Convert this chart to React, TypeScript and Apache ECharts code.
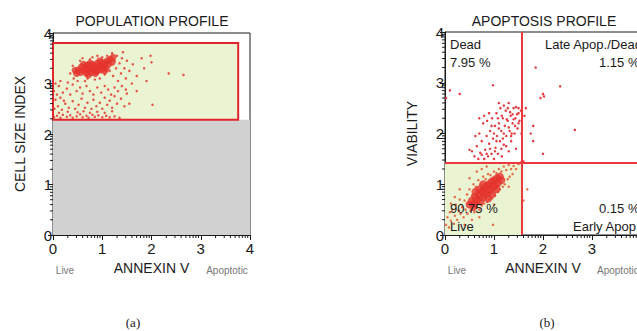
import React, { useEffect, useRef } from "react";
import * as echarts from "echarts";

const leftXTicks = [0, 1, 2, 3, 4];
const rightXTicks = [0, 1, 2, 3];
const decadeMinor = [0.301, 0.477, 0.602, 0.699, 0.778, 0.845, 0.903, 0.954];

// Population profile (left)
const popGate = { x0: 0, x1: 3.76, y0: 2.28, y1: 3.8 };
const popCore: number[][] = [
  [0.48, 3.2], [0.52, 3.27], [0.56, 3.22], [0.58, 3.33], [0.62, 3.25], [0.65, 3.3], [0.68, 3.2],
  [0.7, 3.36], [0.73, 3.26], [0.76, 3.31], [0.78, 3.22], [0.8, 3.38], [0.83, 3.28], [0.85, 3.34],
  [0.88, 3.24], [0.9, 3.4], [0.92, 3.3], [0.95, 3.36], [0.98, 3.27], [1.0, 3.42], [1.03, 3.33],
  [1.06, 3.39], [1.08, 3.3], [1.1, 3.45], [1.13, 3.38], [1.16, 3.48], [1.2, 3.42], [0.72, 3.17],
  [0.86, 3.2], [0.62, 3.38], [0.95, 3.45], [1.05, 3.25], [0.45, 3.26], [1.22, 3.52],
  [0.75, 3.4], [0.9, 3.25], [0.68, 3.3], [1.0, 3.32],
];
const popSparse: number[][] = [
  [0.35, 3.2], [0.4, 3.35], [0.42, 3.1], [0.5, 3.05], [0.55, 3.45], [0.6, 3.5], [0.65, 3.05],
  [0.7, 3.1], [0.75, 3.48], [0.8, 3.52], [0.85, 3.08], [0.9, 3.55], [0.95, 3.1], [1.0, 3.52],
  [1.05, 3.18], [1.1, 3.55], [1.15, 3.25], [1.2, 3.6], [1.22, 3.15], [1.25, 3.45], [1.28, 3.3],
  [1.3, 3.55], [1.32, 3.05], [1.35, 3.4], [1.38, 3.2], [1.4, 3.5], [1.42, 3.62], [1.45, 3.3],
  [1.48, 3.1], [1.5, 3.45], [1.55, 3.25], [1.6, 3.0], [1.62, 3.38], [1.7, 3.15], [1.8, 3.5],
  [1.85, 3.3], [1.98, 3.55], [2.0, 3.42], [2.35, 3.2], [2.65, 3.17], [1.9, 3.05], [2.02, 2.58],
  [1.55, 2.6], [1.7, 2.85],
  [0.02, 2.33], [0.08, 2.36], [0.15, 2.32], [0.2, 2.38], [0.28, 2.34], [0.35, 2.37], [0.4, 2.32],
  [0.48, 2.35], [0.55, 2.39], [0.6, 2.33], [0.68, 2.36], [0.72, 2.32], [0.8, 2.38], [0.85, 2.34],
  [0.92, 2.37], [1.0, 2.33], [1.08, 2.36], [1.15, 2.33], [1.25, 2.35], [1.35, 2.32], [0.12, 2.42],
  [0.3, 2.44], [0.5, 2.43], [0.62, 2.45], [0.75, 2.42], [0.9, 2.44], [1.05, 2.42], [1.2, 2.45],
  [0.03, 2.5], [0.1, 2.55], [0.18, 2.48], [0.25, 2.6], [0.32, 2.52], [0.4, 2.65], [0.45, 2.5],
  [0.52, 2.58], [0.58, 2.7], [0.65, 2.52], [0.7, 2.62], [0.78, 2.5], [0.82, 2.68], [0.88, 2.55],
  [0.95, 2.62], [1.0, 2.5], [1.05, 2.72], [1.1, 2.58], [1.15, 2.66], [1.2, 2.52], [1.25, 2.75],
  [1.3, 2.6], [1.38, 2.7], [1.45, 2.55], [1.5, 2.8], [0.05, 2.68], [0.15, 2.72], [0.22, 2.66],
  [0.02, 2.85], [0.08, 2.78], [0.12, 2.95], [0.2, 2.82], [0.28, 2.9], [0.35, 2.78], [0.4, 2.98],
  [0.48, 2.85], [0.55, 2.92], [0.6, 2.8], [0.68, 2.95], [0.75, 2.85], [0.82, 2.78], [0.9, 2.92],
  [0.98, 2.82], [1.05, 2.95], [1.12, 2.88], [1.18, 2.78], [1.25, 2.92], [1.32, 2.85], [1.4, 2.95],
  [1.48, 2.88], [0.3, 3.02], [0.15, 3.05], [0.05, 3.0],
];

// Apoptosis profile (right)
const apopGateX = 1.57;
const apopGateY = 1.43;
const apopCore: number[][] = [
  [0.5, 0.6], [0.55, 0.68], [0.6, 0.62], [0.62, 0.75], [0.66, 0.7], [0.7, 0.8], [0.72, 0.66],
  [0.75, 0.86], [0.78, 0.74], [0.8, 0.92], [0.82, 0.8], [0.85, 0.96], [0.86, 0.85], [0.9, 1.0],
  [0.92, 0.88], [0.95, 1.05], [0.98, 0.94], [1.0, 1.08], [1.02, 0.98], [1.06, 1.12], [1.08, 1.02],
  [1.12, 1.15], [1.15, 1.08], [0.7, 0.9], [0.88, 0.72], [0.96, 0.8], [0.62, 0.85], [1.05, 0.9],
  [0.78, 1.0], [0.58, 0.55],
];
const apopLive: number[][] = [
  [0.02, 0.2], [0.05, 0.35], [0.08, 0.15], [0.1, 0.45], [0.12, 0.28], [0.15, 0.5], [0.18, 0.22],
  [0.2, 0.38], [0.22, 0.6], [0.25, 0.3], [0.28, 0.48], [0.3, 0.7], [0.32, 0.42], [0.35, 0.55],
  [0.38, 0.35], [0.4, 0.68], [0.42, 0.5], [0.45, 0.8], [0.46, 0.42], [0.48, 0.62], [0.5, 0.9],
  [0.52, 0.48], [0.55, 0.78], [0.58, 1.0], [0.6, 0.45], [0.63, 0.95], [0.65, 0.55], [0.68, 1.08],
  [0.7, 0.5], [0.72, 1.0], [0.75, 0.58], [0.78, 1.15], [0.8, 0.62], [0.83, 1.1], [0.86, 0.65],
  [0.88, 1.2], [0.9, 0.7], [0.93, 1.18], [0.96, 0.72], [1.0, 1.25], [1.02, 0.78], [1.05, 1.22],
  [1.08, 0.85], [1.1, 1.3], [1.12, 0.9], [1.15, 1.25], [1.18, 0.95], [1.2, 1.35], [1.22, 1.0],
  [1.25, 1.28], [1.28, 1.1], [1.3, 1.38], [1.32, 1.15], [1.35, 1.3], [1.38, 1.2], [1.4, 1.36],
  [1.45, 1.3], [1.5, 1.4], [0.98, 0.2], [0.3, 0.9], [0.2, 0.75], [0.12, 0.62], [0.55, 0.3],
  [0.4, 0.2], [0.7, 0.35], [0.65, 1.25], [0.5, 1.12], [0.85, 1.35], [0.75, 1.3], [1.0, 0.6],
  [1.3, 0.95], [1.68, 0.9], [1.6, 0.68],
];
const apopDead: number[][] = [
  [0.6, 1.55], [0.65, 1.75], [0.68, 1.5], [0.7, 2.0], [0.72, 1.62], [0.75, 1.85], [0.78, 2.2],
  [0.8, 1.5], [0.82, 1.68], [0.85, 1.95], [0.86, 2.25], [0.88, 1.55], [0.9, 1.8], [0.92, 2.05],
  [0.95, 1.6], [0.96, 2.3], [0.98, 1.9], [1.0, 1.5], [1.02, 2.15], [1.03, 1.72], [1.05, 2.4],
  [1.06, 1.95], [1.08, 1.6], [1.1, 2.2], [1.12, 1.85], [1.13, 2.5], [1.15, 2.05], [1.16, 1.55],
  [1.18, 2.3], [1.2, 1.78], [1.22, 2.15], [1.24, 2.45], [1.25, 1.95], [1.28, 2.25], [1.3, 1.65],
  [1.32, 2.05], [1.34, 2.35], [1.35, 1.85], [1.38, 2.2], [1.4, 2.5], [1.42, 2.0], [1.44, 2.3],
  [1.45, 1.7], [1.48, 2.1], [1.5, 2.4], [1.52, 2.25], [1.55, 2.45], [1.56, 2.0], [1.2, 2.55],
  [1.1, 2.6], [1.0, 2.0], [0.9, 2.4], [0.8, 2.35], [0.75, 1.58], [0.62, 1.95], [0.55, 1.65],
  [0.7, 2.3], [1.3, 2.6], [1.45, 2.52],
  [1.1, 2.1], [1.16, 2.35], [1.2, 2.0], [1.26, 2.28], [1.3, 2.12], [1.33, 2.42], [1.36, 2.0],
  [1.4, 2.28], [1.43, 2.15], [1.47, 2.38], [1.5, 2.2], [1.18, 1.9], [1.25, 1.75], [1.05, 1.85],
  [0.95, 2.15], [1.08, 2.3], [1.28, 2.5], [1.38, 2.38], [1.5, 2.5], [1.02, 1.65], [0.92, 1.7],
  [0.85, 1.6], [1.15, 1.7], [1.35, 1.95],
  [0.02, 2.7], [0.1, 2.85], [0.3, 2.78], [0.98, 2.95], [1.85, 3.3], [2.35, 2.93], [2.0, 2.78],
  [1.95, 2.7], [2.02, 2.73], [2.65, 2.07], [1.75, 2.0], [1.8, 1.85], [2.0, 1.6], [1.65, 2.5],
  [1.8, 2.15], [0.5, 1.68], [1.62, 2.35], [1.6, 1.45], [1.55, 1.43],
];

const quadrantLabels = {
  dead: ["Dead", "7.95 %"],
  late: ["Late Apop./Dead", "1.15 %"],
  live: ["90.75 %", "Live"],
  early: ["0.15 %", "Early Apop"],
};

const minorTicks: number[] = [];
[0, 1, 2, 3].forEach((k) => decadeMinor.forEach((m) => minorTicks.push(+(k + m).toFixed(3))));

const FONT = "'Liberation Sans', Arial, sans-serif";
const SERIF = "'Liberation Serif', 'Times New Roman', serif";
const RED = "#e3262b";
const GREEN = "#ebf4d2";
const GRAY = "#d1d1d1";
const INK = "#1a1a1a";

function mainX(grid: number, name: string, ticks: number[]) {
  return {
    gridIndex: grid, type: "value", min: 0, max: 4, interval: 1,
    name, nameLocation: "middle", nameGap: 26,
    nameTextStyle: { fontFamily: FONT, fontSize: 14, color: INK },
    axisLine: { show: true, lineStyle: { color: INK, width: 1 } },
    axisTick: { show: true, length: 5, lineStyle: { color: INK } },
    axisLabel: {
      fontFamily: FONT, fontSize: 15, lineHeight: 12, color: INK, margin: 7,
      formatter: (v: number) => (ticks.includes(v) ? String(v) : ""),
    },
    splitLine: { show: false },
  };
}
function mainY(grid: number, name: string) {
  return {
    gridIndex: grid, type: "value", min: 0, max: 4, interval: 1,
    name, nameLocation: "middle", nameGap: 26, nameRotate: 90,
    nameTextStyle: { fontFamily: FONT, fontSize: 14, color: INK },
    axisLine: { show: true, lineStyle: { color: INK, width: 1 } },
    axisTick: { show: true, length: 5, lineStyle: { color: INK } },
    axisLabel: { fontFamily: FONT, fontSize: 15, lineHeight: 12, color: INK, margin: 1 },
    splitLine: { show: false },
  };
}

function minorTickSeries(axisIdx: number, dir: "x" | "y") {
  return {
    type: "custom", xAxisIndex: axisIdx, yAxisIndex: axisIdx, clip: false, silent: true, z: 10,
    data: minorTicks.map((v) => (dir === "x" ? [v, 0] : [0, v])),
    renderItem: (_p: any, api: any) => {
      const pt = api.coord([api.value(0), api.value(1)]);
      const shape = dir === "x"
        ? { x1: pt[0], y1: pt[1], x2: pt[0], y2: pt[1] + 3 }
        : { x1: pt[0] - 3, y1: pt[1], x2: pt[0], y2: pt[1] };
      return { type: "line", shape, style: { stroke: INK, lineWidth: 1 } };
    },
  };
}

export default function App() {
  const ref = useRef<HTMLDivElement>(null);
  useEffect(() => {
    if (!ref.current) return;
    const chart = echarts.init(ref.current, null, { renderer: "svg" });
    const txt = (x: number, y: number, text: string, size: number, color = INK, align = "left", family = FONT) => ({
      type: "text", x, y,
      style: { text, fontFamily: family, fontSize: size, fill: color, textAlign: align, textVerticalAlign: "middle" },
      z: 100,
    });
    chart.setOption({
      animation: false,
      grid: [
        { left: 53, top: 33, width: 197, height: 202, show: true, borderColor: INK, borderWidth: 1, backgroundColor: "#fff" },
        { left: 445, top: 32, width: 196, height: 203, show: true, borderColor: INK, borderWidth: 1, backgroundColor: "#fff" },
      ],
      xAxis: [mainX(0, "ANNEXIN V", leftXTicks), mainX(1, "ANNEXIN V", rightXTicks)],
      yAxis: [mainY(0, "CELL SIZE INDEX"), mainY(1, "VIABILITY")],
      series: [
        {
          type: "scatter", xAxisIndex: 0, yAxisIndex: 0, data: [], z: 1,
          markArea: {
            silent: true,
            data: [
              [{ coord: [0, 0], itemStyle: { color: GRAY, borderWidth: 0 } }, { coord: [4, popGate.y0] }],
              [{ coord: [popGate.x0, popGate.y0], itemStyle: { color: GREEN, borderColor: RED, borderWidth: 2, opacity: 1 } }, { coord: [popGate.x1, popGate.y1] }],
            ],
          },
        },
        { type: "scatter", xAxisIndex: 0, yAxisIndex: 0, data: popSparse, symbolSize: 2.5, itemStyle: { color: "#e4352f", opacity: 0.85 }, z: 3 },
        { type: "scatter", xAxisIndex: 0, yAxisIndex: 0, data: popCore, symbolSize: 7, itemStyle: { color: "#e5332d" }, z: 4 },
        {
          type: "scatter", xAxisIndex: 1, yAxisIndex: 1, data: [], z: 1,
          markArea: {
            silent: true,
            data: [[{ coord: [0, 0], itemStyle: { color: GREEN, borderWidth: 0 } }, { coord: [apopGateX, apopGateY] }]],
          },
        },
        { type: "scatter", xAxisIndex: 1, yAxisIndex: 1, data: apopLive, symbolSize: 2.5, itemStyle: { color: "#e4552f", opacity: 0.85 }, z: 3 },
        { type: "scatter", xAxisIndex: 1, yAxisIndex: 1, data: apopDead, symbolSize: 2.5, itemStyle: { color: "#e0262a", opacity: 0.9 }, z: 3 },
        { type: "scatter", xAxisIndex: 1, yAxisIndex: 1, data: apopCore, symbolSize: 8, itemStyle: { color: "#e5332d" }, z: 4 },
        {
          type: "scatter", xAxisIndex: 1, yAxisIndex: 1, data: [], z: 6,
          markLine: {
            silent: true, symbol: "none", label: { show: false },
            lineStyle: { color: "#ea3a3e", width: 2, type: "solid" },
            data: [{ xAxis: apopGateX }, { yAxis: apopGateY }],
          },
        },
        minorTickSeries(0, "x"), minorTickSeries(0, "y"),
        minorTickSeries(1, "x"), minorTickSeries(1, "y"),
      ],
      graphic: [
        txt(152, 21, "POPULATION PROFILE", 14, INK, "center"),
        txt(544, 21, "APOPTOSIS PROFILE", 14, INK, "center"),
        txt(65, 270, "Live", 10, "#777", "center"),
        txt(227, 270, "Apoptotic", 10, "#777", "center"),
        txt(457, 270, "Live", 10, "#777", "center"),
        txt(597, 270, "Apoptotic", 10, "#777", "left"),
        txt(450, 44, quadrantLabels.dead[0], 13),
        txt(450, 62, quadrantLabels.dead[1], 13),
        txt(545, 44, quadrantLabels.late[0], 13),
        txt(599, 62, quadrantLabels.late[1], 13),
        txt(450, 208, quadrantLabels.live[0], 13),
        txt(450, 226, quadrantLabels.live[1], 13),
        txt(599, 208, quadrantLabels.early[0], 13),
        txt(573, 226, quadrantLabels.early[1], 13),
        txt(133, 322, "(a)", 13, INK, "center", SERIF),
        txt(547, 322, "(b)", 13, INK, "center", SERIF),
      ],
    });
    return () => chart.dispose();
  }, []);
  return <div ref={ref} style={{ position: "fixed", left: 0, top: 0, width: 700, height: 331, background: "#fff" }} />;
}
